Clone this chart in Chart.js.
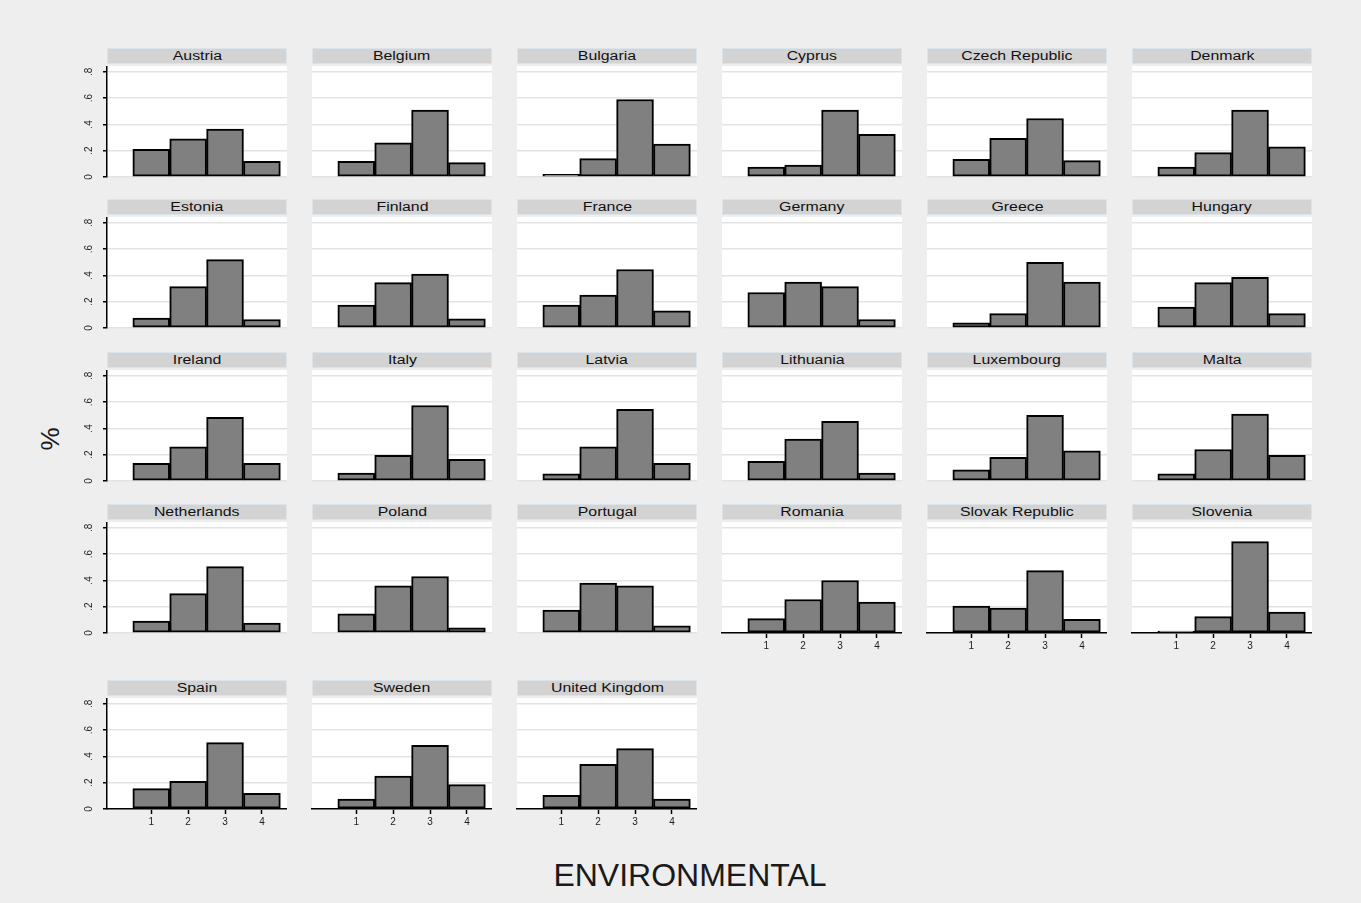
<!DOCTYPE html>
<html><head><meta charset="utf-8">
<script src="https://cdn.jsdelivr.net/npm/chart.js@4/dist/chart.umd.min.js"></script>
<style>
html,body{margin:0;padding:0;background:#eeeeee;width:1361px;height:903px;overflow:hidden;font-family:"Liberation Sans",Arial,sans-serif;}
.hdr{position:absolute;height:16px;background:#d3d3d3;border:1px solid #dbe4ea;box-sizing:border-box;text-align:center;font-size:12.5px;line-height:14px;color:#111;white-space:nowrap;}
.hdr span{display:inline-block;transform:scaleX(1.27);}
canvas{position:absolute;}
.ytitle{position:absolute;left:30px;top:424px;width:40px;height:30px;font-size:26px;line-height:30px;text-align:center;color:#1a1a1a;transform:rotate(-90deg);}
.xtitle{position:absolute;left:440px;top:857px;width:500px;height:36px;font-size:32px;line-height:36px;text-align:center;color:#1a1a1a;}
</style></head><body>
<div class="ytitle">%</div>
<div class="xtitle">ENVIRONMENTAL</div>
<script>
// ---- data ----
const countries = ["Austria","Belgium","Bulgaria","Cyprus","Czech Republic","Denmark",
  "Estonia","Finland","France","Germany","Greece","Hungary",
  "Ireland","Italy","Latvia","Lithuania","Luxembourg","Malta",
  "Netherlands","Poland","Portugal","Romania","Slovak Republic","Slovenia",
  "Spain","Sweden","United Kingdom"];
const categories = [1, 2, 3, 4];
const yTicks = [0, 0.2, 0.4, 0.6, 0.8];
const yTickLabels = ["0", ".2", ".4", ".6", ".8"];
const xTickLabels = ["1", "2", "3", "4"];

const austria      = [0.21, 0.29, 0.365, 0.12];
const belgium      = [0.12, 0.26, 0.51, 0.11];
const bulgaria     = [0.02, 0.14, 0.59, 0.25];
const cyprus       = [0.075, 0.09, 0.51, 0.325];
const czech        = [0.135, 0.295, 0.445, 0.125];
const denmark      = [0.075, 0.185, 0.51, 0.23];
const estonia      = [0.075, 0.315, 0.52, 0.065];
const finland      = [0.175, 0.345, 0.41, 0.07];
const france       = [0.175, 0.25, 0.445, 0.13];
const germany      = [0.27, 0.35, 0.315, 0.065];
const greece       = [0.04, 0.11, 0.5, 0.35];
const hungary      = [0.16, 0.345, 0.385, 0.11];
const ireland      = [0.135, 0.26, 0.485, 0.135];
const italy        = [0.06, 0.195, 0.575, 0.165];
const latvia       = [0.055, 0.26, 0.545, 0.135];
const lithuania    = [0.15, 0.32, 0.455, 0.06];
const luxembourg   = [0.085, 0.18, 0.5, 0.23];
const malta        = [0.055, 0.24, 0.51, 0.195];
const netherlands  = [0.09, 0.30, 0.505, 0.075];
const poland       = [0.145, 0.36, 0.43, 0.04];
const portugal     = [0.175, 0.38, 0.36, 0.055];
const romania      = [0.11, 0.255, 0.4, 0.235];
const slovakia     = [0.205, 0.19, 0.475, 0.105];
const slovenia     = [0.015, 0.125, 0.695, 0.16];
const spain        = [0.155, 0.21, 0.505, 0.12];
const sweden       = [0.075, 0.25, 0.485, 0.185];
const uk           = [0.105, 0.34, 0.46, 0.075];

const series = [austria, belgium, bulgaria, cyprus, czech, denmark,
  estonia, finland, france, germany, greece, hungary,
  ireland, italy, latvia, lithuania, luxembourg, malta,
  netherlands, poland, portugal, romania, slovakia, slovenia,
  spain, sweden, uk];

// ---- layout ----
const baselines = [177, 328, 481, 633, 809];
const PLOT_W = 180, PLOT_H = 111, AXIS_W = 30, AXIS_H = 22;
const colLeft = c => 107 + 205 * c;

const yLabelPlugin = {
  id: 'ylabels',
  afterDraw(chart, args, opts) {
    if (!opts.show) return;
    const ctx = chart.ctx, ys = chart.scales.y;
    ctx.save();
    ctx.fillStyle = '#222';
    ctx.font = '10px "Liberation Sans", Arial, sans-serif';
    ctx.textAlign = 'center';
    ctx.textBaseline = 'middle';
    yTicks.forEach((v, i) => {
      const py = ys.getPixelForValue(v);
      ctx.save();
      ctx.translate(chart.chartArea.left - 18, py);
      ctx.rotate(-Math.PI / 2);
      ctx.fillText(yTickLabels[i], 0, 0);
      ctx.restore();
    });
    ctx.restore();
  }
};

countries.forEach((name, i) => {
  const row = Math.floor(i / 6), col = i % 6;
  const base = baselines[row];
  const left = colLeft(col);
  const isLeft = col === 0;
  const isBottom = (row === 3 && col >= 3) || row === 4;

  const hdr = document.createElement('div');
  hdr.className = 'hdr';
  hdr.style.left = left + 'px';
  hdr.style.top = (base - 129) + 'px';
  hdr.style.width = PLOT_W + 'px';
  const sp = document.createElement('span');
  sp.textContent = name;
  hdr.appendChild(sp);
  document.body.appendChild(hdr);

  const cv = document.createElement('canvas');
  cv.width = PLOT_W + AXIS_W; cv.height = PLOT_H + AXIS_H;
  cv.style.width = cv.width + 'px'; cv.style.height = cv.height + 'px';
  cv.style.left = (left - AXIS_W) + 'px';
  cv.style.top = (base - PLOT_H) + 'px';
  document.body.appendChild(cv);

  const vals = series[i];
  new Chart(cv, {
    type: 'bar',
    data: {
      datasets: [{
        data: categories.map((c, k) => ({ x: c, y: vals[k] })),
        backgroundColor: '#808080',
        borderColor: '#000000',
        borderWidth: 2,
        borderSkipped: false,
        barPercentage: 1,
        categoryPercentage: 1
      }]
    },
    plugins: [yLabelPlugin, {
      id: 'bg',
      beforeDraw(chart) {
        const a = chart.chartArea, ctx = chart.ctx;
        ctx.save(); ctx.fillStyle = '#ffffff';
        ctx.fillRect(a.left, a.top, a.right - a.left, a.bottom - a.top);
        ctx.restore();
      }
    }],
    options: {
      responsive: false,
      animation: false,
      devicePixelRatio: 1,
      layout: { padding: 0 },
      plugins: { legend: { display: false }, tooltip: { enabled: false }, title: { display: false },
                 ylabels: { show: isLeft } },
      scales: {
        x: {
          type: 'linear', position: 'bottom', min: -0.2, max: 4.68, offset: false,
          afterBuildTicks: s => { s.ticks = categories.map(v => ({ value: v })); },
          afterFit: s => { s.height = AXIS_H; s.paddingLeft = 0; s.paddingRight = 0; },
          ticks: { display: isBottom, color: '#222', font: { size: 10, family: '"Liberation Sans", Arial, sans-serif' },
                   padding: 2, maxRotation: 0, autoSkip: false,
                   callback: (v) => xTickLabels[categories.indexOf(v)] },
          grid: { display: isBottom, offset: false, drawOnChartArea: false, drawTicks: true, tickLength: 5, tickColor: '#000', tickWidth: 1.5 },
          border: { display: isBottom, color: '#000', width: 1.5 }
        },
        y: {
          min: 0, max: 0.845,
          afterBuildTicks: s => { s.ticks = yTicks.map(v => ({ value: v })); },
          afterFit: s => { s.width = AXIS_W; s.paddingTop = 0; s.paddingBottom = 0; },
          ticks: { display: false },
          grid: { color: '#e3e3e3', lineWidth: 1.5, drawTicks: isLeft, tickLength: 4, tickColor: '#000', tickWidth: 1.5 },
          border: { display: isLeft, color: '#000', width: 1.5 }
        }
      }
    }
  });
});
</script>
</body></html>
